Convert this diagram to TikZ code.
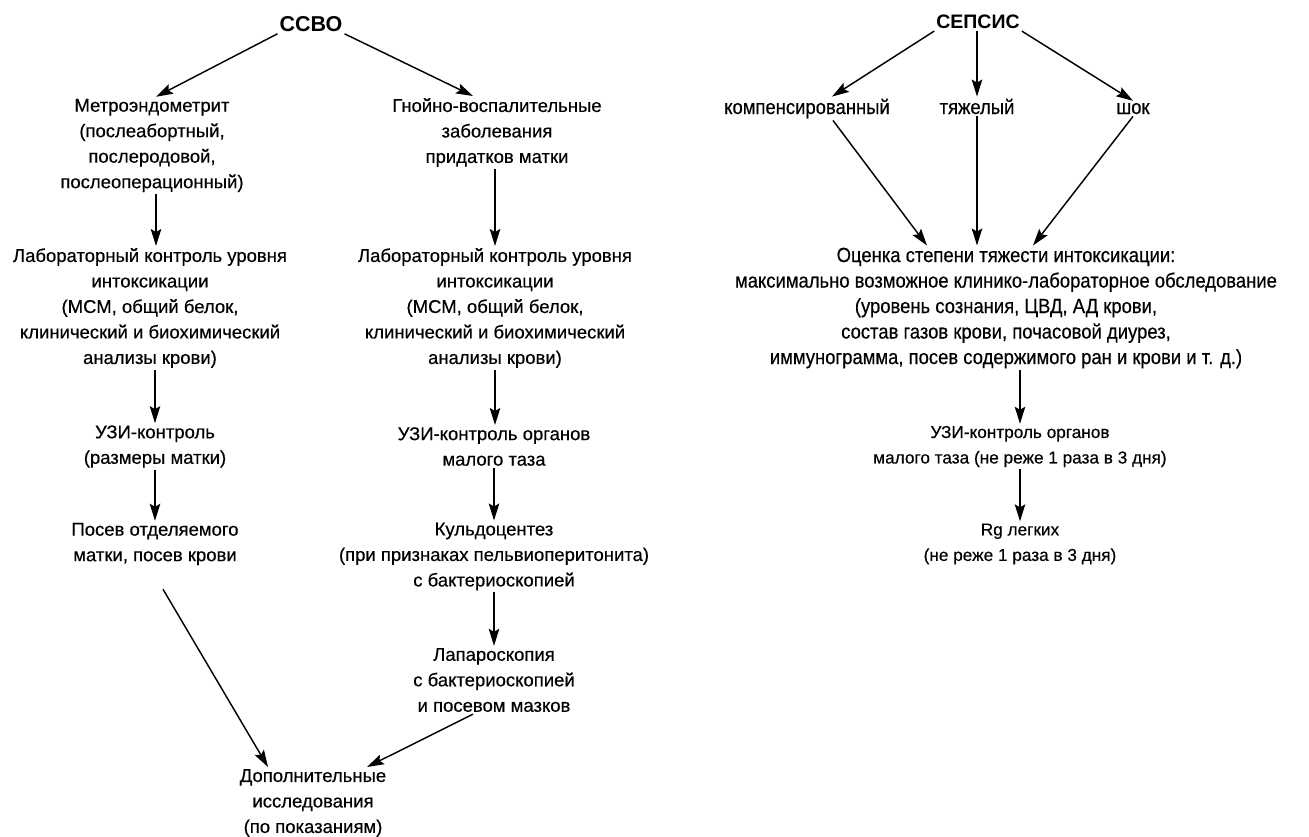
\documentclass[tikz,border=0pt]{standalone}
\usepackage{fontspec}
\setmainfont{Liberation Sans}
\newfontfamily\heavyf[FakeBold=0.4]{Liberation Sans}
\newfontfamily\narrowf[FakeStretch=0.9,FakeBold=0.4]{Liberation Sans}
\usetikzlibrary{arrows.meta,calc}
\begin{document}
\begin{tikzpicture}[x=1pt,y=-1pt,
  txt/.style={align=center,inner sep=2pt,font=\heavyf\fontsize{18.5}{25.5}\selectfont},
  stxt/.style={align=center,inner sep=2pt,font=\heavyf\fontsize{17.2}{25.5}\selectfont},
  rtxt/.style={align=center,inner sep=2pt,font=\narrowf\fontsize{20.5}{25.5}\selectfont},
  head/.style={inner sep=2pt,font=\fontsize{19.5}{24}\selectfont\bfseries},
  arr/.style={line width=1.45pt,-{Stealth[length=17pt,width=10.5pt,inset=3pt]}}]
\useasboundingbox (0,0) rectangle (1309,836);
% left
\node[head,font=\fontsize{21.5}{24}\selectfont\bfseries] (ccbo) at (311,24) {ССВО};
\node[txt] (metro) at (152,145.5) {Метроэндометрит\\(послеабортный,\\послеродовой,\\послеоперационный)};
\node[txt] (lab1) at (150,308) {Лабораторный контроль уровня\\интоксикации\\(МСМ, общий белок,\\клинический и биохимический\\анализы крови)};
\node[txt] (uzi1) at (155,446.5) {УЗИ-контроль\\(размеры матки)};
\node[txt] (posev) at (155,544) {Посев отделяемого\\матки, посев крови};
\node[txt] (dop) at (313,803) {Дополнительные\\исследования\\(по показаниям)};
% middle
\node[txt] (gnoy) at (497,132.5) {Гнойно-воспалительные\\заболевания\\придатков матки};
\node[txt] (lab2) at (495,308) {Лабораторный контроль уровня\\интоксикации\\(МСМ, общий белок,\\клинический и биохимический\\анализы крови)};
\node[txt] (uzi2) at (494,446.5) {УЗИ-контроль органов\\малого таза};
\node[txt] (kuld) at (494,556.5) {Кульдоцентез\\(при признаках пельвиоперитонита)\\с бактериоскопией};
\node[txt] (lapar) at (494,680) {Лапароскопия\\с бактериоскопией\\и посевом мазков};
% right
\node[head] (sepsis) at (978,22) {СЕПСИС};
\node[rtxt,anchor=base] (komp) at (807,114) {компенсированный};
\node[rtxt,anchor=base] (tyazh) at (977,114) {тяжелый};
\node[rtxt,anchor=base] (shok) at (1133,114) {шок};
\node[rtxt] (ocenka) at (1006,308) {Оценка степени тяжести интоксикации:\\максимально возможное клинико-лабораторное обследование\\(уровень сознания, ЦВД, АД крови,\\состав газов крови, почасовой диурез,\\иммунограмма, посев содержимого ран и крови и т. д.)};
\node[stxt] (uzi3) at (1020,446.5) {УЗИ-контроль органов\\малого таза (не реже 1 раза в 3 дня)};
\node[stxt] (rg) at (1020,544) {Rg легких\\(не реже 1 раза в 3 дня)};
% arrows left
\draw[arr] (ccbo.south west) -- ($(metro.north)+(4,0)$);
\draw[arr] (ccbo.south east) -- ($(gnoy.north)+(-24,0)$);
\draw[arr] ($(metro.south)+(4,0)$) -- ($(metro.south |- lab1.north)+(4,0)$);
\draw[arr] (lab1.south -| uzi1.north) -- (uzi1.north);
\draw[arr] (uzi1.south) -- (posev.north);
\draw[arr] ($(posev.south)+(8,22)$) -- ($(dop.north)+(-45,0)$);
% arrows middle
\draw[arr] (gnoy.south -| lab2.north) -- (lab2.north);
\draw[arr] (lab2.south) -- (lab2.south |- uzi2.north);
\draw[arr] (uzi2.south) -- (kuld.north);
\draw[arr] (kuld.south) -- (lapar.north);
\draw[arr] ($(lapar.south)+(-21,0)$) -- ($(dop.north)+(54,0)$);
% arrows right
\draw[arr] (sepsis.south west) -- ($(komp.north)+(25,0)$);
\draw[arr] (sepsis.south -| tyazh.north) -- (tyazh.north);
\draw[arr] (sepsis.south east) -- (shok.north);
\draw[arr] ($(komp.south)+(26,0)$) -- ($(ocenka.north)+(-79,0)$);
\draw[arr] (tyazh.south) -- (tyazh.south |- ocenka.north);
\draw[arr] (shok.south) -- ($(ocenka.north)+(27,0)$);
\draw[arr] (ocenka.south -| uzi3.north) -- (uzi3.north);
\draw[arr] (uzi3.south) -- (rg.north);
\end{tikzpicture}
\end{document}
